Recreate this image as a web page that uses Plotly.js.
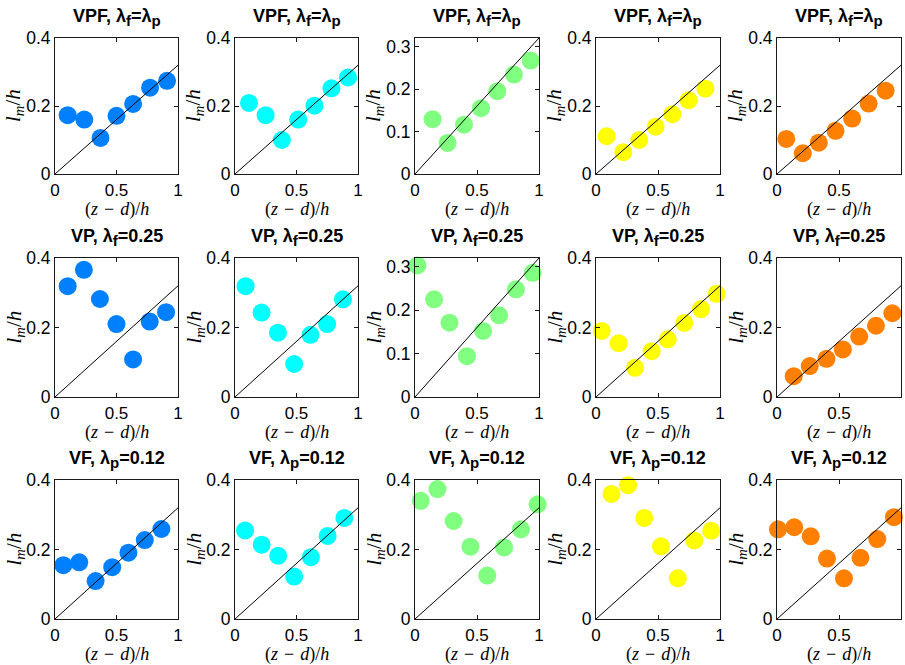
<!DOCTYPE html>
<html><head><meta charset="utf-8">
<script src="https://cdn.plot.ly/plotly-3.0.1.min.js"></script>
<style>html,body{margin:0;padding:0;background:#fff}#chart{width:905px;height:665px}</style>
</head><body><div id="chart"></div>
<script>
const subF = '<sub><span style="font-size:15px">f</span></sub>';
const subP = '<sub><span style="font-size:15px">p</span></sub>';
const rowTitles = ['VPF, λ' + subF + '=λ' + subP, 'VP, λ' + subF + '=0.25', 'VF, λ' + subP + '=0.12'];
const colColors = ['#0080ff', '#00ffff', '#80ff80', '#ffff00', '#ff8000'];
const xTickVals = [0, 0.5, 1];
const xTickText = ['0', '0.5', '1'];
const yTickVals = [0, 0.2, 0.4];
const yTickText = ['0', '0.2', '0.4'];
const yTickValsSmall = [0, 0.1, 0.2, 0.3];
const yTickTextSmall = ['0', '0.1', '0.2', '0.3'];
const refX = [0, 1];
const refY = [0, 0.32];

// VPF, lambda_f = lambda_p
const vpfX = [
  [0.103, 0.238, 0.370, 0.500, 0.635, 0.773, 0.911],
  [0.114, 0.249, 0.381, 0.514, 0.646, 0.784, 0.919],
  [0.142, 0.263, 0.395, 0.532, 0.664, 0.798, 0.933],
  [0.086, 0.220, 0.349, 0.481, 0.616, 0.747, 0.882],
  [0.075, 0.208, 0.337, 0.472, 0.606, 0.739, 0.876]
];
const vpfY = [
  [0.173, 0.160, 0.106, 0.171, 0.206, 0.254, 0.274],
  [0.209, 0.173, 0.100, 0.160, 0.201, 0.252, 0.284],
  [0.129, 0.073, 0.116, 0.155, 0.195, 0.234, 0.267],
  [0.111, 0.064, 0.100, 0.139, 0.176, 0.217, 0.251],
  [0.103, 0.061, 0.092, 0.127, 0.163, 0.207, 0.245]
];
// VP, lambda_f = 0.25
const vpX = [
  [0.103, 0.235, 0.365, 0.500, 0.635, 0.770, 0.903],
  [0.086, 0.216, 0.349, 0.481, 0.614, 0.749, 0.878],
  [0.019, 0.154, 0.278, 0.419, 0.549, 0.678, 0.814, 0.949],
  [0.046, 0.183, 0.315, 0.449, 0.578, 0.712, 0.847, 0.973],
  [0.135, 0.264, 0.399, 0.531, 0.663, 0.798, 0.930]
];
const vpY = [
  [0.319, 0.366, 0.282, 0.210, 0.108, 0.217, 0.244],
  [0.319, 0.243, 0.185, 0.095, 0.179, 0.210, 0.281],
  [0.303, 0.225, 0.171, 0.094, 0.152, 0.188, 0.248, 0.286],
  [0.190, 0.155, 0.084, 0.132, 0.166, 0.213, 0.253, 0.297],
  [0.060, 0.089, 0.110, 0.137, 0.174, 0.205, 0.241]
];
// VF, lambda_p = 0.12
const vfX = [
  [0.068, 0.197, 0.330, 0.465, 0.597, 0.730, 0.865],
  [0.082, 0.217, 0.351, 0.481, 0.617, 0.753, 0.889],
  [0.046, 0.181, 0.311, 0.447, 0.583, 0.718, 0.854, 0.989],
  [0.125, 0.258, 0.389, 0.524, 0.660, 0.793, 0.929],
  [0.008, 0.139, 0.272, 0.403, 0.540, 0.673, 0.809, 0.943]
];
const vfY = [
  [0.155, 0.163, 0.109, 0.149, 0.191, 0.227, 0.259],
  [0.255, 0.214, 0.182, 0.122, 0.178, 0.239, 0.291],
  [0.340, 0.374, 0.282, 0.208, 0.125, 0.206, 0.258, 0.330],
  [0.360, 0.385, 0.291, 0.209, 0.117, 0.226, 0.254],
  [0.258, 0.264, 0.238, 0.174, 0.117, 0.176, 0.230, 0.293]
];
const yMax = [
  [0.4, 0.4, 0.32, 0.4, 0.4],
  [0.4, 0.4, 0.32, 0.4, 0.4],
  [0.4, 0.4, 0.4, 0.4, 0.4]
];

const rowsX = [vpfX, vpX, vfX];
const rowsY = [vpfY, vpY, vfY];

// layout geometry (pixels)
const W = 905, H = 665;
const colPx = [[55, 178], [235, 358], [415, 539], [596, 720], [777, 901]];
const rowPx = [[38, 174], [258, 397], [480, 619]];

const sansFont = 'Liberation Sans, Arial, Helvetica, sans-serif';
const serifFont = 'Liberation Serif, Times New Roman, serif';
const axisColor = '#1a1a1a';
const sp = '\u2004';

const data = [];
const layout = {
  width: W, height: H,
  margin: {l: 0, r: 0, t: 0, b: 0},
  paper_bgcolor: '#ffffff', plot_bgcolor: '#ffffff',
  showlegend: false,
  font: {family: sansFont, color: '#000', size: 16},
  annotations: []
};

for (let r = 0; r < 3; r++) {
  for (let c = 0; c < 5; c++) {
    const k = r * 5 + c + 1;
    const sfx = k === 1 ? '' : String(k);
    const xa = 'x' + sfx, ya = 'y' + sfx;
    const small = yMax[r][c] < 0.35;
    layout['xaxis' + sfx] = {
      domain: [colPx[c][0] / W, colPx[c][1] / W],
      anchor: ya, range: [0, 1],
      tickvals: xTickVals, ticktext: xTickText,
      ticks: 'inside', ticklen: 4, tickcolor: axisColor, tickwidth: 1,
      showline: true, linecolor: axisColor, linewidth: 1, mirror: 'allticks',
      showgrid: false, zeroline: false, ticklabelstandoff: 1,
      tickfont: {family: sansFont, size: 17, color: '#000'}, fixedrange: true
    };
    layout['yaxis' + sfx] = {
      domain: [1 - rowPx[r][1] / H, 1 - rowPx[r][0] / H],
      anchor: xa, range: [0, yMax[r][c]],
      tickvals: small ? yTickValsSmall : yTickVals,
      ticktext: small ? yTickTextSmall : yTickText,
      ticks: 'inside', ticklen: 4, tickcolor: axisColor, tickwidth: 1,
      showline: true, linecolor: axisColor, linewidth: 1, mirror: 'allticks',
      showgrid: false, zeroline: false,
      tickfont: {family: sansFont, size: 17.5, color: '#000'}, fixedrange: true
    };
    data.push({
      type: 'scatter', mode: 'markers', xaxis: xa, yaxis: ya,
      x: rowsX[r][c], y: rowsY[r][c], cliponaxis: false,
      marker: {size: 18, color: colColors[c], line: {width: 0}},
      hoverinfo: 'skip'
    });
    data.push({
      type: 'scatter', mode: 'lines', xaxis: xa, yaxis: ya,
      x: refX, y: refY, line: {color: '#000', width: 1}, hoverinfo: 'skip'
    });
    layout.annotations.push({
      text: '<b>' + rowTitles[r] + '</b>', showarrow: false,
      xref: xa + ' domain', yref: ya + ' domain', x: 0.5, y: 1,
      xanchor: 'center', yanchor: 'bottom', yshift: 7,
      font: {family: sansFont, size: 18, color: '#000'}
    });
    layout.annotations.push({
      text: '(<i>z</i>' + sp + '−' + sp + '<i>d</i>)/<i>h</i>', showarrow: false,
      xref: xa + ' domain', yref: ya + ' domain', x: 0.5, y: 0,
      xanchor: 'center', yanchor: 'middle', yshift: -35, borderpad: 0,
      font: {family: serifFont, size: 18, color: '#000'}
    });
    layout.annotations.push({
      text: '<i>l<sub>m</sub></i>/<i>h</i>', showarrow: false, textangle: -90,
      xref: xa + ' domain', yref: ya + ' domain', x: 0, y: 0.5,
      xanchor: 'center', yanchor: 'middle', xshift: -41,
      font: {family: serifFont, size: 21, color: '#000'}
    });
  }
}

Plotly.newPlot('chart', data, layout, {displayModeBar: false, staticPlot: true});
</script>
</body></html>
